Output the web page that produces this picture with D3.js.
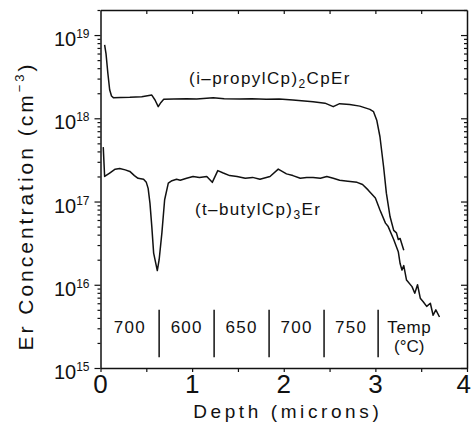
<!DOCTYPE html>
<html>
<head>
<meta charset="utf-8">
<script src="https://cdn.jsdelivr.net/npm/d3@7"></script>
<style>
  body { margin: 0; background: #fff; }
  svg text { font-family: "Liberation Sans", Arial, Helvetica, sans-serif; fill: #111; }
</style>
</head>
<body>
<div id="chart"></div>
<script>
// depth (microns), Er concentration (cm^-3)
const propylProfile = [
  [0.045, 7.6e18], [0.06, 6.0e18], [0.08, 3.5e18], [0.10, 2.2e18], [0.12, 1.85e18],
  [0.14, 1.77e18], [0.22, 1.78e18], [0.32, 1.79e18], [0.45, 1.82e18], [0.56, 1.90e18],
  [0.595, 1.66e18], [0.63, 1.38e18], [0.66, 1.55e18], [0.69, 1.69e18], [0.80, 1.70e18],
  [0.94, 1.72e18], [1.05, 1.70e18], [1.23, 1.77e18], [1.35, 1.72e18], [1.52, 1.70e18],
  [1.65, 1.72e18], [1.81, 1.69e18], [1.95, 1.70e18], [2.10, 1.66e18], [2.32, 1.58e18],
  [2.45, 1.52e18], [2.54, 1.38e18], [2.61, 1.50e18], [2.72, 1.46e18], [2.83, 1.40e18],
  [2.94, 1.28e18], [2.98, 1.2e18], [3.015, 9.5e17], [3.05, 6.0e17], [3.09, 2.6e17],
  [3.12, 1.26e17], [3.16, 6.6e16], [3.20, 4.5e16], [3.23, 4.2e16], [3.25, 3.5e16],
  [3.27, 3.6e16], [3.31, 2.6e16]
];
const butylProfile = [
  [0.03, 4.5e17], [0.045, 2.0e17], [0.10, 2.2e17], [0.16, 2.45e17], [0.21, 2.5e17],
  [0.27, 2.4e17], [0.32, 2.3e17], [0.37, 2.05e17], [0.41, 1.9e17], [0.47, 1.85e17],
  [0.50, 1.7e17], [0.52, 1.44e17], [0.54, 9.5e16], [0.56, 5.0e16], [0.58, 2.4e16],
  [0.62, 1.48e16], [0.64, 2.0e16], [0.67, 4.2e16], [0.70, 1.05e17], [0.74, 1.66e17],
  [0.78, 1.78e17], [0.83, 1.85e17], [0.87, 1.8e17], [0.94, 1.9e17], [1.01, 2.0e17],
  [1.08, 1.95e17], [1.16, 2.0e17], [1.22, 1.7e17], [1.28, 2.35e17], [1.34, 2.2e17],
  [1.41, 2.05e17], [1.49, 2.0e17], [1.58, 1.9e17], [1.66, 1.95e17], [1.74, 1.85e17],
  [1.85, 2.0e17], [1.94, 2.45e17], [2.03, 2.15e17], [2.10, 2.05e17], [2.18, 1.9e17],
  [2.25, 1.95e17], [2.32, 1.95e17], [2.40, 1.9e17], [2.47, 2.0e17], [2.54, 1.9e17],
  [2.61, 1.8e17], [2.70, 1.75e17], [2.80, 1.7e17], [2.86, 1.6e17], [2.92, 1.38e17],
  [3.00, 1.1e17], [3.05, 7.9e16], [3.11, 5.5e16], [3.14, 5.0e16], [3.20, 3.5e16],
  [3.25, 2.5e16], [3.27, 1.8e16], [3.29, 1.5e16], [3.31, 1.7e16], [3.34, 1.14e16],
  [3.40, 9.5e15], [3.43, 7.9e15], [3.46, 1.0e16], [3.49, 6.9e15], [3.52, 6.3e15],
  [3.56, 5.5e15], [3.60, 6.0e15], [3.63, 4.3e15], [3.66, 5.0e15], [3.70, 4.1e15]
];

const depthTicks = [0, 1, 2, 3, 4];
const decadeTicks = [1e15, 1e16, 1e17, 1e18, 1e19];
const tempBounds = [0.64, 1.24, 1.84, 2.44, 3.03];
const tempCenters = [0.32, 0.94, 1.54, 2.14, 2.735];
const tempLabels = ["700", "600", "650", "700", "750"];

const width = 472, height = 428;
const svg = d3.select("#chart").append("svg")
  .attr("width", width)
  .attr("height", height);

const x = d3.scaleLinear().domain([0, 4]).range([100.5, 467]);
const y = d3.scaleLog().domain([1e15, 2e19]).range([368, 10]);

const ink = "#111";

// frame + ticks
const halfSteps = d3.range(0, 4.01, 0.5);
const minorDecades = y.ticks().filter(v => decadeTicks.indexOf(v) < 0);

function styleAxis(g) {
  g.select(".domain").attr("stroke", ink).attr("stroke-width", 1.5);
  g.selectAll(".tick line").attr("stroke", ink).attr("stroke-width", 1.2);
}

svg.append("g")
  .attr("transform", `translate(0,${y.range()[0]})`)
  .call(d3.axisBottom(x).tickValues(halfSteps).tickSize(4).tickSizeOuter(0).tickFormat(""))
  .call(styleAxis);

svg.append("g")
  .attr("transform", `translate(0,${y.range()[1]})`)
  .call(d3.axisBottom(x).tickValues(halfSteps.slice(1, -1)).tickSize(4).tickSizeOuter(0).tickFormat(""))
  .call(styleAxis);

svg.append("g")
  .attr("transform", `translate(${x.range()[0]},0)`)
  .call(d3.axisLeft(y).tickValues(decadeTicks).tickSize(6).tickSizeOuter(0).tickFormat(""))
  .call(styleAxis);
svg.append("g")
  .attr("transform", `translate(${x.range()[0]},0)`)
  .call(d3.axisLeft(y).tickValues(minorDecades).tickSize(3).tickSizeOuter(0).tickFormat(""))
  .call(g => g.select(".domain").remove())
  .call(styleAxis);

svg.append("g")
  .attr("transform", `translate(${x.range()[1]},0)`)
  .call(d3.axisLeft(y).tickValues(decadeTicks).tickSize(6).tickSizeOuter(0).tickFormat(""))
  .call(styleAxis);
svg.append("g")
  .attr("transform", `translate(${x.range()[1]},0)`)
  .call(d3.axisLeft(y).tickValues(minorDecades).tickSize(3).tickSizeOuter(0).tickFormat(""))
  .call(g => g.select(".domain").remove())
  .call(styleAxis);

// x tick labels (last one kept inside the page edge)
svg.append("g").selectAll("text")
  .data(depthTicks)
  .enter().append("text")
  .attr("x", d => d === 4 ? width - 1 : x(d))
  .attr("y", 393)
  .attr("text-anchor", d => d === 4 ? "end" : "middle")
  .style("font-size", "26px")
  .text(d => d);

// y tick labels 10^n
const yLab = svg.append("g").selectAll("text")
  .data(decadeTicks)
  .enter().append("text")
  .attr("x", x.range()[0] - 11)
  .attr("y", d => y(d) + 11)
  .attr("text-anchor", "end")
  .style("font-size", "20px");
yLab.append("tspan").text("10");
yLab.append("tspan")
  .attr("dy", -8)
  .style("font-size", "12px")
  .text(d => Math.round(Math.log10(d)));

// axis titles
svg.append("text")
  .attr("x", (x.range()[0] + x.range()[1]) / 2 + 4)
  .attr("y", 418)
  .attr("text-anchor", "middle")
  .style("font-size", "19px")
  .style("letter-spacing", "3.6px")
  .text("Depth (microns)");

const yTitle = svg.append("text")
  .attr("transform", "translate(33,206) rotate(-90)")
  .attr("text-anchor", "middle")
  .style("font-size", "21px")
  .style("letter-spacing", "3px");
yTitle.append("tspan").text("Er Concentration (cm");
yTitle.append("tspan").attr("dy", -9).style("font-size", "13px").text("−3");
yTitle.append("tspan").attr("dy", 9).text(")");

// profiles
const line = d3.line()
  .x(d => x(d[0]))
  .y(d => y(d[1]));

svg.append("path")
  .datum(propylProfile)
  .attr("fill", "none")
  .attr("stroke", ink)
  .attr("stroke-width", 1.5)
  .attr("stroke-linejoin", "round")
  .attr("d", line);

svg.append("path")
  .datum(butylProfile)
  .attr("fill", "none")
  .attr("stroke", ink)
  .attr("stroke-width", 1.5)
  .attr("stroke-linejoin", "round")
  .attr("d", line);

// series labels
const lab1 = svg.append("text")
  .attr("x", x(1.85))
  .attr("y", y(2.6e18))
  .attr("text-anchor", "middle")
  .style("font-size", "17px")
  .style("letter-spacing", "1.4px");
lab1.append("tspan").text("(i–propylCp)");
lab1.append("tspan").attr("dy", 4).style("font-size", "12px").text("2");
lab1.append("tspan").attr("dy", -4).text("CpEr");

const lab2 = svg.append("text")
  .attr("x", x(1.72))
  .attr("y", y(6.9e16))
  .attr("text-anchor", "middle")
  .style("font-size", "17px")
  .style("letter-spacing", "1.4px");
lab2.append("tspan").text("(t–butylCp)");
lab2.append("tspan").attr("dy", 4).style("font-size", "12px").text("3");
lab2.append("tspan").attr("dy", -4).text("Er");

// growth temperature strip
svg.append("g").selectAll("line")
  .data(tempBounds)
  .enter().append("line")
  .attr("x1", d => x(d)).attr("x2", d => x(d))
  .attr("y1", y(5e15)).attr("y2", y(1.35e15))
  .attr("stroke", ink)
  .attr("stroke-width", 1.5);

svg.append("g").selectAll("text")
  .data(tempLabels)
  .enter().append("text")
  .attr("x", (d, i) => x(tempCenters[i]))
  .attr("y", y(2.6e15))
  .attr("text-anchor", "middle")
  .style("font-size", "17px")
  .style("letter-spacing", "1.2px")
  .text(d => d);

svg.append("text")
  .attr("x", x(3.37))
  .attr("y", y(2.6e15))
  .attr("text-anchor", "middle")
  .style("font-size", "17px")
  .style("letter-spacing", "0.6px")
  .text("Temp");
svg.append("text")
  .attr("x", x(3.37))
  .attr("y", y(1.55e15))
  .attr("text-anchor", "middle")
  .style("font-size", "17px")
  .text("(°C)");
</script>
</body>
</html>
